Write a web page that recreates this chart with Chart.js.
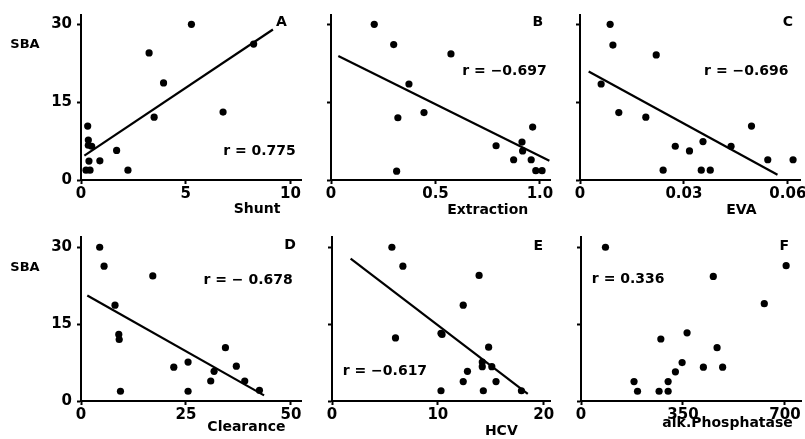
<!DOCTYPE html>
<html>
<head>
<meta charset="utf-8">
<script src="https://cdn.jsdelivr.net/npm/chart.js@4.4.1/dist/chart.umd.min.js"></script>
<style>
body { margin: 0; background: #fff; }
#wrap { position: relative; width: 805px; height: 439px; overflow: hidden; }
canvas { position: absolute; }
</style>
</head>
<body>
<div id="wrap"></div>
<script>
// SBA on the y axis of every panel
const yTicks = [0, 15, 30];
const yTickLabels = ['0', '15', '30'];

// A - Shunt
const shuntX = [5.27, 8.24, 3.25, 3.94, 3.49, 6.78, 0.32, 0.35, 0.35, 0.51, 1.70, 0.38, 0.90, 0.24, 0.43, 2.24];
const shuntY = [30, 26.2, 24.5, 18.7, 12.1, 13.1, 10.4, 7.7, 6.7, 6.5, 5.7, 3.65, 3.7, 1.9, 1.9, 1.9];
const shuntFitX = [0.16, 9.16];
const shuntFitY = [4.7, 29.0];
const shuntTicks = [0, 5, 10];
const shuntTickLabels = ['0', '5', '10'];

// B - Extraction
const extrX = [0.207, 0.30, 0.574, 0.373, 0.445, 0.32, 0.965, 0.914, 0.79, 0.917, 0.874, 0.958, 0.314, 0.98, 1.01];
const extrY = [30, 26.1, 24.3, 18.5, 13.0, 12.0, 10.2, 7.3, 6.6, 5.6, 3.9, 3.9, 1.7, 1.8, 1.8];
const extrFitX = [0.035, 1.045];
const extrFitY = [23.9, 3.7];
const extrTicks = [0, 0.5, 1.0];
const extrTickLabels = ['0', '0.5', '1.0'];

// C - EVA
const evaX = [0.0087, 0.0095, 0.022, 0.0061, 0.0112, 0.019, 0.0495, 0.0355, 0.0275, 0.0436, 0.0316, 0.0542, 0.0615, 0.024, 0.035, 0.0376];
const evaY = [30, 26, 24.1, 18.5, 13.0, 12.1, 10.4, 7.4, 6.5, 6.5, 5.6, 3.9, 3.9, 1.9, 1.9, 1.9];
const evaFitX = [0.0025, 0.057];
const evaFitY = [20.9, 1.0];
const evaTicks = [0, 0.03, 0.06];
const evaTickLabels = ['0', '0.03', '0.06'];

// D - Clearance
const clearX = [4.45, 5.5, 17.1, 8.1, 9.0, 9.1, 34.4, 22.1, 25.5, 37.0, 31.7, 30.9, 39.0, 42.5, 9.4, 25.5];
const clearY = [30, 26.3, 24.4, 18.7, 13.0, 12.0, 10.4, 6.6, 7.6, 6.8, 5.8, 3.9, 3.9, 2.1, 1.9, 1.9];
const clearFitX = [1.5, 43.6];
const clearFitY = [20.6, 1.1];
const clearTicks = [0, 25, 50];
const clearTickLabels = ['0', '25', '50'];

// E - HCV
const hcvX = [5.66, 6.7, 13.9, 12.4, 10.3, 10.4, 6.0, 14.8, 14.2, 14.2, 15.1, 12.8, 12.4, 15.5, 10.3, 14.3, 17.9];
const hcvY = [30, 26.3, 24.5, 18.7, 13.2, 13.0, 12.3, 10.5, 7.6, 6.7, 6.7, 5.8, 3.8, 3.8, 2.0, 2.0, 2.0];
const hcvFitX = [1.76, 18.5];
const hcvFitY = [27.8, 1.4];
const hcvTicks = [0, 10, 20];
const hcvTickLabels = ['0', '10', '20'];

// F - alk. Phosphatase
const alkX = [84, 704, 454, 629, 364, 274, 467, 347, 324, 420, 486, 299, 182, 194, 268, 299];
const alkY = [30, 26.4, 24.3, 19.0, 13.3, 12.1, 10.4, 7.5, 5.7, 6.6, 6.6, 3.8, 3.8, 1.9, 1.9, 1.9];
const alkTicks = [0, 350, 700];
const alkTickLabels = ['0', '350', '700'];

const FONT = 'DejaVu Sans';

const panels = [
    { xs: shuntX, ys: shuntY, fx: shuntFitX, fy: shuntFitY, ticks: shuntTicks, tickLabels: shuntTickLabels,
      xmax: 10.5, ymax: 31.8, letter: 'A', letterAt: [9.57, 30.4], r: 'r = 0.775', rAt: [8.52, 5.45],
      title: 'Shunt', titleX: 8.4, titleDy: 29, sba: true,
      box: { left: 0, top: 0, width: 312, height: 222 }, area: { left: 81, right: 301, top: 15, bottom: 180 } },
    { xs: extrX, ys: extrY, fx: extrFitX, fy: extrFitY, ticks: extrTicks, tickLabels: extrTickLabels,
      xmax: 1.048, ymax: 31.8, letter: 'B', letterAt: [0.99, 30.4], r: 'r = \u22120.697', rAt: [0.83, 20.9],
      title: 'Extraction', titleX: 0.75, titleDy: 30, sba: false,
      box: { left: 300, top: 0, width: 262, height: 222 }, area: { left: 331, right: 550, top: 15, bottom: 180 } },
    { xs: evaX, ys: evaY, fx: evaFitX, fy: evaFitY, ticks: evaTicks, tickLabels: evaTickLabels,
      xmax: 0.0635, ymax: 31.8, letter: 'C', letterAt: [0.06, 30.4], r: 'r = \u22120.696', rAt: [0.048, 21],
      title: 'EVA', titleX: 0.0466, titleDy: 30, sba: false,
      box: { left: 550, top: 0, width: 255, height: 222 }, area: { left: 580, right: 800, top: 15, bottom: 180 } },
    { xs: clearX, ys: clearY, fx: clearFitX, fy: clearFitY, ticks: clearTicks, tickLabels: clearTickLabels,
      xmax: 52.4, ymax: 32, letter: 'D', letterAt: [49.8, 30.4], r: 'r = \u2212 0.678', rAt: [39.8, 23.6],
      title: 'Clearance', titleX: 39.4, titleDy: 26, sba: true,
      box: { left: 0, top: 222, width: 312, height: 217 }, area: { left: 81, right: 301, top: 237, bottom: 401 } },
    { xs: hcvX, ys: hcvY, fx: hcvFitX, fy: hcvFitY, ticks: hcvTicks, tickLabels: hcvTickLabels,
      xmax: 20.6, ymax: 32, letter: 'E', letterAt: [19.5, 30.2], r: 'r = \u22120.617', rAt: [5.0, 5.7],
      title: 'HCV', titleX: 16.0, titleDy: 30, sba: false,
      box: { left: 300, top: 222, width: 262, height: 217 }, area: { left: 332, right: 550, top: 237, bottom: 401 } },
    { xs: alkX, ys: alkY, fx: null, fy: null, ticks: alkTicks, tickLabels: alkTickLabels,
      xmax: 755, ymax: 32, letter: 'F', letterAt: [698, 30.2], r: 'r = 0.336', rAt: [162, 23.7],
      title: 'alk.Phosphatase', titleX: 503, titleDy: 22, sba: false,
      box: { left: 550, top: 222, width: 255, height: 217 }, area: { left: 581, right: 803, top: 237, bottom: 401 } },
];

function toPoints(xs, ys) {
    return xs.map((x, i) => ({ x: x, y: ys[i] }));
}

function makePanel(p) {
    const canvas = document.createElement('canvas');
    canvas.width = p.box.width;
    canvas.height = p.box.height;
    canvas.style.left = p.box.left + 'px';
    canvas.style.top = p.box.top + 'px';
    canvas.style.width = p.box.width + 'px';
    canvas.style.height = p.box.height + 'px';
    document.getElementById('wrap').appendChild(canvas);

    const yWidth = p.area.left - p.box.left;
    const xHeight = p.box.top + p.box.height - p.area.bottom;
    const padRight = p.box.left + p.box.width - p.area.right;
    const padTop = p.area.top - p.box.top;

    const datasets = [{
        type: 'scatter',
        data: toPoints(p.xs, p.ys),
        pointRadius: 3.6,
        pointBackgroundColor: '#000',
        pointBorderColor: '#000',
        borderWidth: 0,
    }];
    if (p.fx) {
        datasets.push({
            type: 'line',
            data: toPoints(p.fx, p.fy),
            showLine: true,
            pointRadius: 0,
            borderColor: '#000',
            borderWidth: 2.2,
            fill: false,
        });
    }

    // panel letter, r value, axis title and SBA label
    const notes = {
        id: 'notes',
        afterDatasetsDraw(chart) {
            const c = chart.ctx;
            const sx = chart.scales.x, sy = chart.scales.y;
            c.save();
            c.fillStyle = '#000';
            c.textBaseline = 'middle';
            c.textAlign = 'center';
            c.font = 'bold 14px ' + FONT;
            c.fillText(p.letter, sx.getPixelForValue(p.letterAt[0]), sy.getPixelForValue(p.letterAt[1]));
            c.fillText(p.r, sx.getPixelForValue(p.rAt[0]), sy.getPixelForValue(p.rAt[1]));
            c.fillText(p.title, sx.getPixelForValue(p.titleX), chart.chartArea.bottom + p.titleDy);
            if (p.sba) {
                c.font = 'bold 13px ' + FONT;
                c.fillText('SBA', chart.chartArea.left - 56, sy.getPixelForValue(26));
            }
            c.restore();
        }
    };

    new Chart(canvas, {
        data: { datasets: datasets },
        options: {
            responsive: false,
            animation: false,
            layout: { padding: { left: 0, right: padRight, top: padTop, bottom: 0 } },
            plugins: { legend: { display: false }, tooltip: { enabled: false } },
            scales: {
                x: {
                    type: 'linear',
                    min: 0,
                    max: p.xmax,
                    afterBuildTicks: s => { s.ticks = p.ticks.map(v => ({ value: v })); },
                    afterFit: s => { s.height = xHeight; s.paddingLeft = 0; s.paddingRight = 0; },
                    grid: { drawOnChartArea: false, drawTicks: true, tickLength: 4, tickColor: '#000', tickWidth: 2 },
                    border: { display: true, color: '#000', width: 2 },
                    ticks: {
                        color: '#000',
                        padding: 1,
                        maxRotation: 0,
                        autoSkip: false,
                        font: { family: FONT, weight: 'bold', size: 15 },
                        callback: (v, i) => p.tickLabels[i],
                    },
                },
                y: {
                    type: 'linear',
                    min: 0,
                    max: p.ymax,
                    afterBuildTicks: s => { s.ticks = yTicks.map(v => ({ value: v })); },
                    afterFit: s => { s.width = yWidth; s.paddingTop = 0; s.paddingBottom = 0; },
                    grid: { drawOnChartArea: false, drawTicks: true, tickLength: 4, tickColor: '#000', tickWidth: 2 },
                    border: { display: true, color: '#000', width: 2 },
                    ticks: {
                        display: p.sba,
                        color: '#000',
                        padding: 5,
                        autoSkip: false,
                        font: { family: FONT, weight: 'bold', size: 15 },
                        callback: (v, i) => yTickLabels[i],
                    },
                },
            },
        },
        plugins: [notes],
    });
}

panels.forEach(makePanel);
</script>
</body>
</html>
